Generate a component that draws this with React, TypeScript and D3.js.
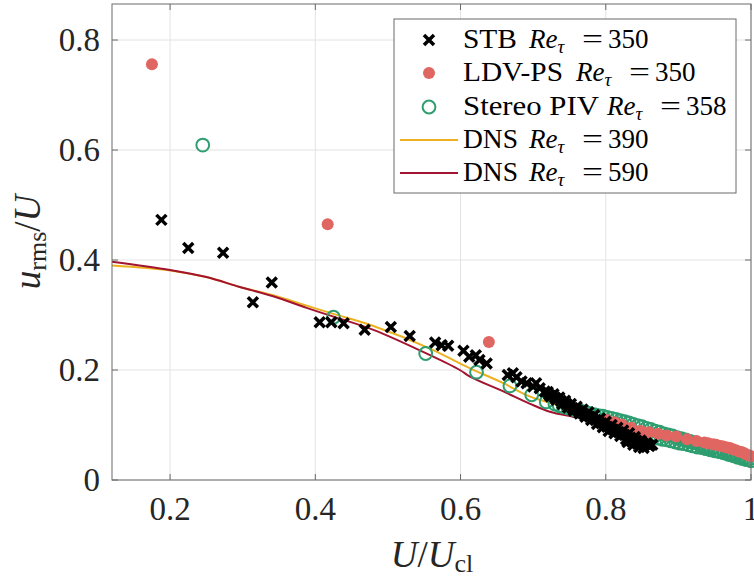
import React from 'react';
import * as d3 from 'd3';

type P = [number, number];

const xTicks = [0.2, 0.4, 0.6, 0.8, 1];
const yTicks = [0, 0.2, 0.4, 0.6, 0.8];
const xTickLabels = ['0.2', '0.4', '0.6', '0.8', '1'];
const yTickLabels = ['0', '0.2', '0.4', '0.6', '0.8'];

// STB Re_tau = 350
const stb: P[] = [
  [0.188, 0.473], [0.225, 0.422], [0.273, 0.413], [0.314, 0.323], [0.340, 0.359],
  [0.406, 0.287], [0.422, 0.287], [0.439, 0.285], [0.468, 0.273], [0.504, 0.278],
  [0.530, 0.262], [0.565, 0.250], [0.574, 0.245], [0.583, 0.244], [0.604, 0.235],
  [0.612, 0.224], [0.621, 0.227], [0.626, 0.218], [0.636, 0.212], [0.665, 0.191],
  [0.672, 0.194], [0.677, 0.187], [0.684, 0.179], [0.691, 0.176], [0.700, 0.170],
  [0.704, 0.176], [0.709, 0.167], [0.716, 0.161],
  [0.720, 0.160], [0.724, 0.152], [0.728, 0.156], [0.732, 0.146], [0.736, 0.150],
  [0.740, 0.138], [0.744, 0.144], [0.748, 0.132], [0.752, 0.138], [0.756, 0.126],
  [0.760, 0.133], [0.764, 0.121], [0.768, 0.128], [0.772, 0.115], [0.776, 0.123],
  [0.780, 0.109], [0.784, 0.118], [0.788, 0.102], [0.792, 0.112], [0.796, 0.096],
  [0.800, 0.106], [0.804, 0.089], [0.808, 0.100], [0.812, 0.085], [0.816, 0.095],
  [0.820, 0.080], [0.824, 0.090], [0.828, 0.074], [0.832, 0.085], [0.836, 0.070],
  [0.840, 0.078], [0.844, 0.066], [0.848, 0.072], [0.852, 0.063], [0.856, 0.067],
  [0.860, 0.062], [0.864, 0.064],
  [0.722, 0.155], [0.730, 0.150], [0.738, 0.144], [0.746, 0.138], [0.754, 0.131],
  [0.762, 0.126], [0.770, 0.120], [0.778, 0.115], [0.786, 0.109], [0.794, 0.103],
  [0.802, 0.097], [0.810, 0.092], [0.818, 0.087], [0.826, 0.082], [0.834, 0.077],
  [0.842, 0.072], [0.850, 0.068], [0.858, 0.064], [0.846, 0.060], [0.852, 0.058],
  [0.838, 0.064], [0.830, 0.069],
];

// LDV-PS Re_tau = 350
const ldv: P[] = [
  [0.175, 0.756], [0.417, 0.465], [0.639, 0.251],
  [0.801, 0.109], [0.812, 0.105], [0.822, 0.101], [0.835, 0.095], [0.848, 0.089],
  [0.860, 0.087], [0.872, 0.084], [0.884, 0.081], [0.897, 0.079], [0.912, 0.074],
  [0.925, 0.071], [0.936, 0.068], [0.948, 0.065], [0.958, 0.062], [0.967, 0.059],
  [0.975, 0.056], [0.983, 0.052], [0.990, 0.049], [0.997, 0.045], [1.000, 0.043],
  [0.941, 0.067], [0.952, 0.064], [0.962, 0.061], [0.971, 0.058], [0.979, 0.054],
  [0.987, 0.051], [0.993, 0.047],
];

// Stereo PIV Re_tau = 358
const spiv: P[] = [
  [0.245, 0.609], [0.425, 0.296], [0.552, 0.230], [0.622, 0.196], [0.668, 0.171],
  [0.698, 0.155], [0.718, 0.142],
  [0.730, 0.138], [0.736, 0.135], [0.742, 0.133], [0.748, 0.131], [0.754, 0.129],
  [0.760, 0.127], [0.766, 0.125], [0.772, 0.123], [0.778, 0.121], [0.784, 0.119],
  [0.790, 0.117], [0.796, 0.116], [0.802, 0.114], [0.808, 0.112], [0.814, 0.110],
  [0.820, 0.108], [0.826, 0.106], [0.832, 0.104], [0.838, 0.101], [0.844, 0.099],
  [0.850, 0.097], [0.856, 0.094], [0.862, 0.092], [0.868, 0.089], [0.874, 0.087],
  [0.880, 0.084], [0.886, 0.082], [0.892, 0.080], [0.898, 0.077], [0.904, 0.075],
  [0.910, 0.073], [0.916, 0.070], [0.922, 0.068], [0.928, 0.065], [0.934, 0.062],
  [0.940, 0.060], [0.946, 0.057], [0.952, 0.054], [0.958, 0.051], [0.964, 0.049],
  [0.970, 0.046], [0.976, 0.044], [0.982, 0.041], [0.988, 0.039], [0.994, 0.037],
  [1.000, 0.035],
  [0.800, 0.103], [0.806, 0.100], [0.812, 0.098], [0.818, 0.095], [0.824, 0.093],
  [0.830, 0.091], [0.836, 0.088], [0.842, 0.086], [0.848, 0.084], [0.854, 0.082],
  [0.860, 0.080], [0.866, 0.078], [0.872, 0.076], [0.878, 0.074], [0.884, 0.073],
  [0.890, 0.071], [0.896, 0.069], [0.902, 0.067], [0.908, 0.066], [0.914, 0.064],
  [0.920, 0.062], [0.926, 0.060], [0.932, 0.059], [0.938, 0.057], [0.944, 0.055],
  [0.950, 0.053], [0.956, 0.052], [0.962, 0.050], [0.968, 0.048], [0.974, 0.046],
  [0.980, 0.044], [0.986, 0.042], [0.992, 0.040], [0.998, 0.038],
];

// DNS Re_tau = 390
const dns390: P[] = [
  [0.12, 0.390], [0.20, 0.381], [0.25, 0.369], [0.296, 0.351], [0.342, 0.336],
  [0.388, 0.317], [0.425, 0.302], [0.480, 0.280], [0.558, 0.239], [0.599, 0.212],
  [0.613, 0.203], [0.659, 0.176], [0.695, 0.152], [0.727, 0.139], [0.810, 0.106],
  [0.829, 0.097], [0.90, 0.075], [0.95, 0.058], [1.0, 0.040],
];

// DNS Re_tau = 590
const dns590: P[] = [
  [0.12, 0.397], [0.20, 0.382], [0.25, 0.369], [0.296, 0.351], [0.342, 0.334],
  [0.388, 0.313], [0.425, 0.297], [0.480, 0.273], [0.558, 0.227], [0.599, 0.200],
  [0.613, 0.188], [0.659, 0.161], [0.695, 0.139], [0.723, 0.124], [0.755, 0.115],
  [0.780, 0.108], [0.820, 0.095], [0.90, 0.072], [0.95, 0.057], [1.0, 0.040],
];

const legendNames = ['STB', 'LDV-PS', 'Stereo PIV', 'DNS', 'DNS'];
const legendValues = ['350', '350', '358', '390', '590'];

const C_STB = '#000000';
const C_LDV = '#E06662';
const C_PIV = '#2E9E70';
const C_390 = '#EDB120';
const C_590 = '#A2142F';

const FONT = '"Liberation Serif", "Times New Roman", serif';

export default function App() {
  const L = 112, R = 751, T = 4, B = 480;
  const x = d3.scaleLinear().domain([0.12, 1]).range([L, R]);
  const y = d3.scaleLinear().domain([0, 0.8655]).range([B, T]);
  const line = d3.line<P>().x(d => x(d[0])).y(d => y(d[1])).curve(d3.curveCatmullRom.alpha(0.5));
  const tick = 6;
  const axisColor = '#6a6a6a';
  const gridColor = '#e3e3e3';
  const textColor = '#262626';

  const cross = (cx: number, cy: number, k: string, s = 5) => (
    <path key={k} d={`M${cx - s},${cy - s}L${cx + s},${cy + s}M${cx - s},${cy + s}L${cx + s},${cy - s}`}
      stroke={C_STB} strokeWidth={3.5} fill="none" />
  );

  const legendY = [40, 73, 107, 140, 173];
  const nameW = [54, 100, 136, 55, 55];
  const reX = [529, 576, 607, 529, 529];

  return (
    <svg width={754} height={577} style={{ position: 'absolute', left: 0, top: 0, background: '#fff' }}
      fontFamily={FONT}>
      <rect x={0} y={0} width={754} height={577} fill="#fff" />
      {/* grid */}
      {xTicks.map((t, i) => (
        <line key={'gx' + i} x1={x(t)} x2={x(t)} y1={T} y2={B} stroke={gridColor} strokeWidth={1} />
      ))}
      {yTicks.map((t, i) => (
        <line key={'gy' + i} x1={L} x2={R} y1={y(t)} y2={y(t)} stroke={gridColor} strokeWidth={1} />
      ))}
      {/* DNS lines */}
      <path d={line(dns390) || ''} stroke={C_390} strokeWidth={2} fill="none" />
      <path d={line(dns590) || ''} stroke={C_590} strokeWidth={2} fill="none" />
      {/* Stereo PIV */}
      {spiv.map((d, i) => (
        <circle key={'p' + i} cx={x(d[0])} cy={y(d[1])} r={6.4} fill="none" stroke={C_PIV} strokeWidth={2} />
      ))}
      {/* LDV-PS */}
      {ldv.map((d, i) => (
        <circle key={'l' + i} cx={x(d[0])} cy={y(d[1])} r={6} fill={C_LDV} />
      ))}
      {/* STB */}
      {stb.map((d, i) => cross(x(d[0]), y(d[1]), 's' + i))}
      {/* axes box */}
      <rect x={L} y={T} width={R - L} height={B - T} fill="none" stroke={axisColor} strokeWidth={1} />
      {xTicks.map((t, i) => (
        <g key={'tx' + i}>
          <line x1={x(t)} x2={x(t)} y1={B} y2={B - tick} stroke={axisColor} />
          <line x1={x(t)} x2={x(t)} y1={T} y2={T + tick} stroke={axisColor} />
          <text x={x(t)} y={520} textAnchor="middle" fontSize={33} fill={textColor}>{xTickLabels[i]}</text>
        </g>
      ))}
      {yTicks.map((t, i) => (
        <g key={'ty' + i}>
          <line x1={L} x2={L + tick} y1={y(t)} y2={y(t)} stroke={axisColor} />
          <line x1={R} x2={R - tick} y1={y(t)} y2={y(t)} stroke={axisColor} />
          <text x={100} y={y(t) + 11} textAnchor="end" fontSize={33} fill={textColor}>{yTickLabels[i]}</text>
        </g>
      ))}
      {/* axis labels */}
      <text x={432} y={567} textAnchor="middle" fontSize={37} fill={textColor}>
        <tspan fontStyle="italic">U</tspan>
        <tspan>/</tspan>
        <tspan fontStyle="italic">U</tspan>
        <tspan fontSize={26} dy={5}>cl</tspan>
      </text>
      <text transform={`translate(40,242) rotate(-90)`} textAnchor="middle" fontSize={37} fill={textColor}>
        <tspan fontStyle="italic">u</tspan>
        <tspan fontSize={26} dy={6}>rms</tspan>
        <tspan dy={-6}>/</tspan>
        <tspan fontStyle="italic">U</tspan>
      </text>
      {/* legend */}
      <rect x={394} y={19} width={342} height={174} fill="#fff" stroke={axisColor} strokeWidth={1} />
      {legendNames.map((name, i) => {
        const cy = legendY[i];
        let marker: React.ReactNode = null;
        if (i === 0) marker = cross(429, cy, 'lm0');
        if (i === 1) marker = <circle cx={429} cy={cy} r={6} fill={C_LDV} />;
        if (i === 2) marker = <circle cx={429} cy={cy} r={6.4} fill="none" stroke={C_PIV} strokeWidth={2} />;
        if (i === 3) marker = <line x1={400} x2={458} y1={cy} y2={cy} stroke={C_390} strokeWidth={2} />;
        if (i === 4) marker = <line x1={400} x2={458} y1={cy} y2={cy} stroke={C_590} strokeWidth={2} />;
        const by = cy + 7.5;
        return (
          <g key={'lg' + i}>
            {marker}
            <text x={463} y={by} fontSize={27} fill="#000" textLength={nameW[i]} lengthAdjust="spacingAndGlyphs">{name}</text>
            <text x={reX[i]} y={by} fontSize={27} fill="#000">
              <tspan fontStyle="italic">Re</tspan>
              <tspan fontStyle="italic" fontSize={19} dy={5}>τ</tspan>
            </text>
            <text x={reX[i] + 53} y={by} fontSize={27} fill="#000" textLength={21} lengthAdjust="spacingAndGlyphs">=</text>
            <text x={reX[i] + 79} y={by} fontSize={27} fill="#000">{legendValues[i]}</text>
          </g>
        );
      })}
    </svg>
  );
}
